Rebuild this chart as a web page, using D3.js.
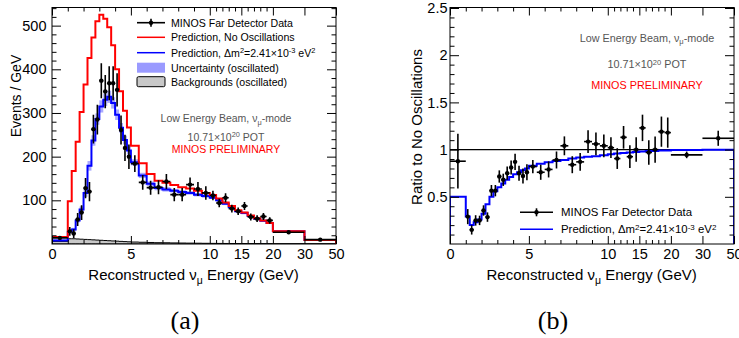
<!DOCTYPE html>
<html><head><meta charset="utf-8">
<script src="https://cdn.jsdelivr.net/npm/d3@7"></script>
<style>
body{margin:0;background:#fff}
svg{display:block}
text{font-family:"Liberation Sans",Arial,Helvetica,sans-serif}
text.cap{font-family:"Liberation Serif","DejaVu Serif","Times New Roman",serif}
</style>
</head><body>
<svg id="c" width="739" height="338"></svg>
<script>
// ---------------- data ----------------
const binEdges=[0,1,1.25,1.5,1.75,2,2.25,2.5,2.75,3,3.25,3.5,3.75,4,4.25,4.5,4.75,5,5.5,6,6.5,7,7.5,8,8.5,9,9.5,10,11,12,13,14,15,16,17,18,19,20,30,50];
// Events / GeV
const predNoOsc=[16,98,167,234,302,365,426,473,510,525,516,496,455,400,350,305,267,225,185,160,145,140,135,130,127,122,117,112,104,95,87,77,72,65,59,54,48,29,9];
const predOsc=[8,28,33,54,79,117,179,237,286,315,330,337,323,296,266,238,214,187,157,138,128,125,122,119,117,113,110,106,100,92,84,75,71,64,58,53,48,29,9];
const predOscUnc=[3,3,4,5,7,9,11,12,13,14,14,14,13,12,11,10,9,7,6,5,5,5,4,4,4,4,4,3,3,3,3,3,3,2,2,2,2,1,0.5];
const backgrounds=[6,12,12,11.5,11,10.5,10,9.5,9,8.5,8,7.5,7,6.5,6,5.5,5,4.5,4,3.5,3,2.8,2.5,2.2,2,1.8,1.6,1.4,1.3,1.2,1.1,1,1,0.9,0.9,0.8,0.8,0.6,0.4];
const dataEvents=[14,29,24,56,72,128,120,263,285,374,349,368,368,353,261,220,200,184,141,129,130,143,113,113,136,126,117,111,94,106,81,75,87,62,58,63,54,27,10];
const dataEventsErr=[4,10,10,15,17,23,22,33,34,40,38,39,39,38,33,30,28,19,17,16,16,17,15,15,16.5,16,15.5,10.7,9.7,10.3,9,8.7,9.3,8,7.7,7.9,7.4,1.6,0.7];
// Ratio to no oscillations
const ratioPred=[0.50,0.29,0.20,0.23,0.26,0.32,0.42,0.50,0.56,0.60,0.64,0.68,0.71,0.74,0.76,0.78,0.80,0.83,0.85,0.865,0.88,0.89,0.905,0.915,0.925,0.93,0.94,0.95,0.96,0.965,0.97,0.975,0.98,0.985,0.985,0.99,0.99,0.995,0.998];
const ratioData=[0.877,0.29,0.15,0.25,0.25,0.355,0.285,0.565,0.565,0.715,0.68,0.75,0.81,0.87,0.75,0.72,0.76,0.82,0.76,0.79,0.89,1.04,0.84,0.87,1.085,1.06,1.04,1.02,0.905,1.13,0.925,1.0,1.23,0.97,1.0,1.19,1.18,0.944,1.12];
const ratioDataErr=[0.29,0.08,0.05,0.055,0.05,0.055,0.05,0.06,0.06,0.065,0.065,0.07,0.075,0.085,0.08,0.08,0.085,0.07,0.08,0.085,0.09,0.1,0.09,0.095,0.12,0.12,0.12,0.11,0.11,0.12,0.12,0.13,0.14,0.13,0.14,0.16,0.16,0.035,0.08];
// axis ticks
const xMajor=[0,5,10,15,20,30,50];
const xMinor=[1,2,3,4,6,7,8,9,11,12,13,14,16,17,18,19];
const xBreaks=[0,10,20,30,50];
const yLeftMajor=[100,200,300,400,500];
const yRightMajor=[0.5,1,1.5,2,2.5];

// ---------------- drawing ----------------
const svg=d3.select("#c");
const W=284, TOP=7.5, BOT=244;
const FONT='"Liberation Sans",Arial,Helvetica,sans-serif';
const bins=predNoOsc.map((_,i)=>({i,lo:binEdges[i],hi:binEdges[i+1],mid:(binEdges[i]+binEdges[i+1])/2}));

function xScale(x0){
  return d3.scaleLinear().domain(xBreaks).range([0,5,7,8,9].map(f=>x0+W*f/9));
}
function rich(sel,parts){
  parts.forEach(p=>{
    const t=sel.append("tspan").text(p[0]);
    if(p[1]==="sup") t.attr("font-size","70%").attr("dy","-0.45em");
    if(p[1]==="sub") t.attr("font-size","70%").attr("dy","0.35em");
    if(p[1]==="after-sup") t.attr("dy","0.315em");
    if(p[1]==="after-sub") t.attr("dy","-0.245em");
  });
  return sel;
}
function stepLine(x,y,vals){
  const pts=[[x(binEdges[0]),y(0)]];
  vals.forEach((v,i)=>{pts.push([x(binEdges[i]),y(v)]);pts.push([x(binEdges[i+1]),y(v)]);});
  pts.push([x(binEdges[binEdges.length-1]),y(0)]);
  return d3.line()(pts);
}
function axes(g,x,y,yMajor,yMinor,padY){
  const x0=x.range()[0], x1=x.range()[x.range().length-1];
  const fix=s=>{s.select(".domain").remove();s.attr("font-family",FONT).attr("font-size",14.5);s.selectAll("line").attr("stroke","#000");s.selectAll("text").attr("fill","#000");};
  g.append("g").attr("transform",`translate(0,${BOT})`).call(d3.axisBottom(x).tickValues(xMajor).tickSize(-8).tickPadding(4.5).tickFormat(d3.format("d"))).call(fix);
  g.append("g").attr("transform",`translate(0,${BOT})`).call(d3.axisBottom(x).tickValues(xMinor).tickSize(-4).tickFormat("")).call(fix);
  g.append("g").attr("transform",`translate(0,${TOP})`).call(d3.axisTop(x).tickValues(xMajor).tickSize(-8).tickFormat("")).call(fix);
  g.append("g").attr("transform",`translate(0,${TOP})`).call(d3.axisTop(x).tickValues(xMinor).tickSize(-4).tickFormat("")).call(fix);
  g.append("g").attr("transform",`translate(${x0},0)`).call(d3.axisLeft(y).tickValues(yMajor).tickSize(-9).tickPadding(padY).tickFormat(d3.format("~g"))).call(fix);
  g.append("g").attr("transform",`translate(${x0},0)`).call(d3.axisLeft(y).tickValues(yMinor).tickSize(-4.5).tickFormat("")).call(fix);
  g.append("g").attr("transform",`translate(${x1},0)`).call(d3.axisRight(y).tickValues(yMajor).tickSize(-9).tickFormat("")).call(fix);
  g.append("g").attr("transform",`translate(${x1},0)`).call(d3.axisRight(y).tickValues(yMinor).tickSize(-4.5).tickFormat("")).call(fix);
  g.append("rect").attr("x",x0).attr("y",TOP).attr("width",x1-x0).attr("height",BOT-TOP).attr("fill","none").attr("stroke","#000").attr("stroke-width",1);
}
function dataPoints(g,x,y,vals,errs){
  const pg=g.append("g");
  pg.selectAll("line.v").data(bins).join("line").attr("x1",d=>x(d.mid)).attr("x2",d=>x(d.mid))
    .attr("y1",d=>y(vals[d.i]-errs[d.i])).attr("y2",d=>y(vals[d.i]+errs[d.i])).attr("stroke","#000").attr("stroke-width",1.6);
  pg.selectAll("line.h").data(bins).join("line").attr("x1",d=>x(d.lo)).attr("x2",d=>x(d.hi))
    .attr("y1",d=>y(vals[d.i])).attr("y2",d=>y(vals[d.i])).attr("stroke","#000").attr("stroke-width",1.6);
  pg.selectAll("circle").data(bins).join("circle").attr("cx",d=>x(d.mid)).attr("cy",d=>y(vals[d.i])).attr("r",2.2).attr("fill","#000");
}

// ---------- panel (a) ----------
{
  const x=xScale(52), y=d3.scaleLinear().domain([0,541.5]).range([BOT,TOP]);
  const g=svg.append("g");
  svg.append("clipPath").attr("id","clipA").append("rect").attr("x",52).attr("y",TOP).attr("width",W).attr("height",BOT-TOP);
  const p=g.append("g").attr("clip-path","url(#clipA)");
  p.selectAll("rect.band").data(bins).join("rect").attr("x",d=>x(d.lo)).attr("width",d=>x(d.hi)-x(d.lo))
    .attr("y",d=>y(predOsc[d.i]+predOscUnc[d.i])).attr("height",d=>y(predOsc[d.i]-predOscUnc[d.i])-y(predOsc[d.i]+predOscUnc[d.i]))
    .attr("fill","#9a9aff").attr("opacity",0.85);
  const bgPts=backgrounds.map((v,i)=>[binEdges[i],v]).concat([[binEdges[binEdges.length-1],backgrounds[backgrounds.length-1]]]);
  p.append("path").attr("d",d3.area().x(d=>x(d[0])).y0(y(0)).y1(d=>y(d[1])).curve(d3.curveStepAfter)(bgPts))
    .attr("fill","#c8c8c8").attr("stroke","#000").attr("stroke-width",1);
  p.append("path").attr("d",stepLine(x,y,predOsc)).attr("fill","none").attr("stroke","#0000ff").attr("stroke-width",2);
  p.append("path").attr("d",stepLine(x,y,predNoOsc)).attr("fill","none").attr("stroke","#ff0000").attr("stroke-width",2);
  dataPoints(p,x,y,dataEvents,dataEventsErr);
  axes(g,x,y,yLeftMajor,d3.range(20,541,20).filter(v=>v%100!==0),5.5);

  // legend
  const L=g.append("g").attr("font-size",10.6);
  const lx0=137,lx1=165,tx=171,ly=[22.7,37.3,52.7,67.7,81.7];
  L.append("line").attr("x1",lx0).attr("x2",lx1).attr("y1",ly[0]).attr("y2",ly[0]).attr("stroke","#000").attr("stroke-width",1.6);
  L.append("line").attr("x1",(lx0+lx1)/2).attr("x2",(lx0+lx1)/2).attr("y1",ly[0]-4).attr("y2",ly[0]+4).attr("stroke","#000").attr("stroke-width",1.6);
  L.append("circle").attr("cx",(lx0+lx1)/2).attr("cy",ly[0]).attr("r",2.2);
  L.append("line").attr("x1",lx0).attr("x2",lx1).attr("y1",ly[1]).attr("y2",ly[1]).attr("stroke","#ff0000").attr("stroke-width",1.5);
  L.append("line").attr("x1",lx0).attr("x2",lx1).attr("y1",ly[2]).attr("y2",ly[2]).attr("stroke","#0000ff").attr("stroke-width",1.5);
  L.append("rect").attr("x",lx0).attr("y",ly[3]-5).attr("width",lx1-lx0).attr("height",10).attr("fill","#9a9aff");
  L.append("rect").attr("x",lx0).attr("y",ly[4]-5).attr("width",lx1-lx0).attr("height",10).attr("rx",1.5).attr("fill","#c8c8c8").attr("stroke","#000").attr("stroke-width",1);
  L.append("text").attr("x",tx).attr("y",ly[0]+3.8).text("MINOS Far Detector Data");
  L.append("text").attr("x",tx).attr("y",ly[1]+3.8).text("Prediction, No Oscillations");
  rich(L.append("text").attr("x",tx).attr("y",ly[2]+3.8),[["Prediction, \u0394m"],["2","sup"],["=2.41\u00d710","after-sup"],["-3","sup"],[" eV","after-sup"],["2","sup"]]);
  L.append("text").attr("x",tx).attr("y",ly[3]+3.8).text("Uncertainty (oscillated)");
  L.append("text").attr("x",tx).attr("y",ly[4]+3.8).text("Backgrounds (oscillated)");

  const A=g.append("g").attr("font-size",10.5).attr("text-anchor","middle");
  rich(A.append("text").attr("x",226).attr("y",122).attr("fill","#555"),[["Low Energy Beam, \u03bd"],["\u03bc","sub"],["-mode","after-sub"]]);
  rich(A.append("text").attr("x",226).attr("y",140.5).attr("fill","#555"),[["10.71\u00d710"],["20","sup"],[" POT","after-sup"]]);
  A.append("text").attr("x",226).attr("y",153.3).attr("fill","#ff0000").text("MINOS PRELIMINARY");

  g.append("text").attr("transform","translate(21,96) rotate(-90)").attr("text-anchor","middle").attr("font-size",14).text("Events / GeV");
  rich(g.append("text").attr("x",193.5).attr("y",280).attr("text-anchor","middle").attr("font-size",15),[["Reconstructed \u03bd"],["\u03bc","sub"],[" Energy (GeV)","after-sub"]]);
  g.append("text").attr("class","cap").attr("x",185).attr("y",329).attr("text-anchor","middle").attr("font-size",26).text("(a)");
}

// ---------- panel (b) ----------
{
  const x=xScale(450), y=d3.scaleLinear().domain([0,2.5]).range([BOT,8]);
  const g=svg.append("g");
  svg.append("clipPath").attr("id","clipB").append("rect").attr("x",450).attr("y",8).attr("width",W).attr("height",BOT-8);
  const p=g.append("g").attr("clip-path","url(#clipB)");
  p.append("line").attr("x1",x(0)).attr("x2",x(50)).attr("y1",y(1)).attr("y2",y(1)).attr("stroke","#000").attr("stroke-width",1.2);
  p.append("path").attr("d",stepLine(x,y,ratioPred)).attr("fill","none").attr("stroke","#0000ff").attr("stroke-width",2);
  dataPoints(p,x,y,ratioData,ratioDataErr);
  axes(g,x,y,yRightMajor,d3.range(0.1,2.5,0.1).filter(v=>Math.abs(v*2-Math.round(v*2))>1e-6),2.5);

  const L=g.append("g").attr("font-size",11.4);
  const lx0=520,lx1=553,tx=561,ly=[212.3,229.3];
  L.append("line").attr("x1",lx0).attr("x2",lx1).attr("y1",ly[0]).attr("y2",ly[0]).attr("stroke","#000").attr("stroke-width",1.6);
  L.append("line").attr("x1",(lx0+lx1)/2).attr("x2",(lx0+lx1)/2).attr("y1",ly[0]-4).attr("y2",ly[0]+4).attr("stroke","#000").attr("stroke-width",1.6);
  L.append("circle").attr("cx",(lx0+lx1)/2).attr("cy",ly[0]).attr("r",2.2);
  L.append("line").attr("x1",lx0).attr("x2",lx1).attr("y1",ly[1]).attr("y2",ly[1]).attr("stroke","#0000ff").attr("stroke-width",1.6);
  L.append("text").attr("x",tx).attr("y",ly[0]+4).text("MINOS Far Detector Data");
  rich(L.append("text").attr("x",tx).attr("y",ly[1]+4),[["Prediction, \u0394m"],["2","sup"],["=2.41\u00d710","after-sup"],["-3","sup"],[" eV","after-sup"],["2","sup"]]);

  const A=g.append("g").attr("font-size",10.8).attr("text-anchor","middle");
  rich(A.append("text").attr("x",647).attr("y",41.5).attr("fill","#555"),[["Low Energy Beam, \u03bd"],["\u03bc","sub"],["-mode","after-sub"]]);
  rich(A.append("text").attr("x",647).attr("y",68.3).attr("fill","#555"),[["10.71\u00d710"],["20","sup"],[" POT","after-sup"]]);
  A.append("text").attr("x",647).attr("y",89).attr("fill","#ff0000").text("MINOS PRELIMINARY");

  g.append("text").attr("transform","translate(422,127) rotate(-90)").attr("text-anchor","middle").attr("font-size",15).text("Ratio to No Oscillations");
  rich(g.append("text").attr("x",591.7).attr("y",280).attr("text-anchor","middle").attr("font-size",15),[["Reconstructed \u03bd"],["\u03bc","sub"],[" Energy (GeV)","after-sub"]]);
  g.append("text").attr("class","cap").attr("x",553).attr("y",329).attr("text-anchor","middle").attr("font-size",26).text("(b)");
}
</script>
</body></html>
